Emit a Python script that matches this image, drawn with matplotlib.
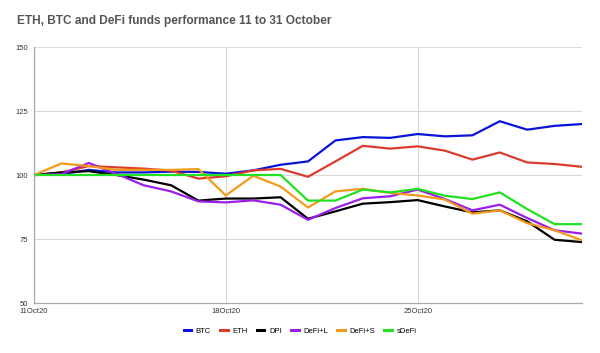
import matplotlib
matplotlib.use("Agg")
import matplotlib.pyplot as plt
import numpy as np

days = list(range(11, 32))
xtick_days = [11, 18, 25]
xtick_labels = ["11Oct20", "18Oct20", "25Oct20"]
yticks = [50, 75, 100, 125, 150]

btc = [100, 100.3, 102, 101, 101, 101.3, 101.2, 100.5, 101.8, 104, 105.3, 113.5, 114.8, 114.5,
       116, 115.1, 115.5, 121, 117.7, 119.2, 119.9]
eth = [100, 101, 103.5, 103, 102.5, 101.7, 98.6, 99.5, 101.8, 102.4, 99.3, 105.3, 111.4, 110.3,
       111.2, 109.5, 106, 108.8, 104.9, 104.3, 103.2]
dpi = [100, 101, 101.5, 100, 98.2, 96, 90, 90.8, 90.8, 91.3, 82.9, 85.8, 88.8, 89.4,
       90.2, 87.7, 85.4, 86.2, 81.9, 74.7, 73.8]
defi_l = [100, 100.3, 104.7, 100.5, 96, 93.6, 89.7, 89.3, 90.1, 88.4, 82.5, 87.1, 90.9, 91.7,
          94.3, 90.6, 86.2, 88.4, 83.2, 78.4, 77.1]
defi_s = [100, 104.5, 103.5, 102, 102, 102, 102.3, 92, 99.7, 95.5, 87.3, 93.6, 94.6, 93,
          92, 90.4, 84.9, 86.2, 81.2, 78.4, 74.5]
sdefi = [100, 100, 100, 100, 100, 100, 100, 100, 100, 100, 90, 90, 94.3, 93.2,
         94.6, 91.9, 90.6, 93.2, 86.7, 80.8, 80.8]

series = [
    ("BTC", btc, "#0a14d8"),
    ("ETH", eth, "#dc3b2c"),
    ("DPI", dpi, "#000000"),
    ("DeFi+L", defi_l, "#9a1fe8"),
    ("DeFi+S", defi_s, "#f39a1e"),
    ("sDeFi", sdefi, "#22e022"),
]

plt.rcParams['font.family'] = ['Liberation Sans', 'DejaVu Sans']

fig = plt.figure(figsize=(6.0, 3.53), dpi=100)
ax = fig.add_axes([34/600, 1-303/353, (582-34)/600, (303-47)/353])

for name, vals, col in series:
    ax.plot(days, vals, color=col, lw=1.6, label=name, solid_joinstyle='round')

ax.set_xlim(11, 31)
ax.set_ylim(50, 150)
ax.set_yticks(yticks)
ax.set_yticklabels([str(v) for v in yticks])
ax.set_xticks(xtick_days)
ax.set_xticklabels(xtick_labels)
ax.tick_params(axis='both', length=0, labelsize=5.5, colors='#333333')
ax.tick_params(axis='y', pad=4)
ax.tick_params(axis='x', pad=3.5)
for lbl in ax.get_yticklabels():
    lbl.set_verticalalignment('center_baseline')
ax.grid(True, color='#d9d9d9', lw=0.8)
ax.set_axisbelow(True)
for s in ['top', 'right']:
    ax.spines[s].set_visible(False)
for s in ['left', 'bottom']:
    ax.spines[s].set_color('#aaaaaa')
    ax.spines[s].set_linewidth(0.9)

fig.text(17/600, 1-21/353, "ETH, BTC and DeFi funds performance 11 to 31 October",
         fontsize=8.6, fontweight='bold', color='#555555', va='center', ha='left')

leg = fig.legend(loc='center', bbox_to_anchor=(300/600, 1-331/353), ncol=6, frameon=False,
                 fontsize=5.5, handlelength=1.0, handletextpad=0.6, columnspacing=1.2)
for h in leg.get_lines():
    h.set_linewidth(2.2)

fig.savefig("out.png", dpi=100)
